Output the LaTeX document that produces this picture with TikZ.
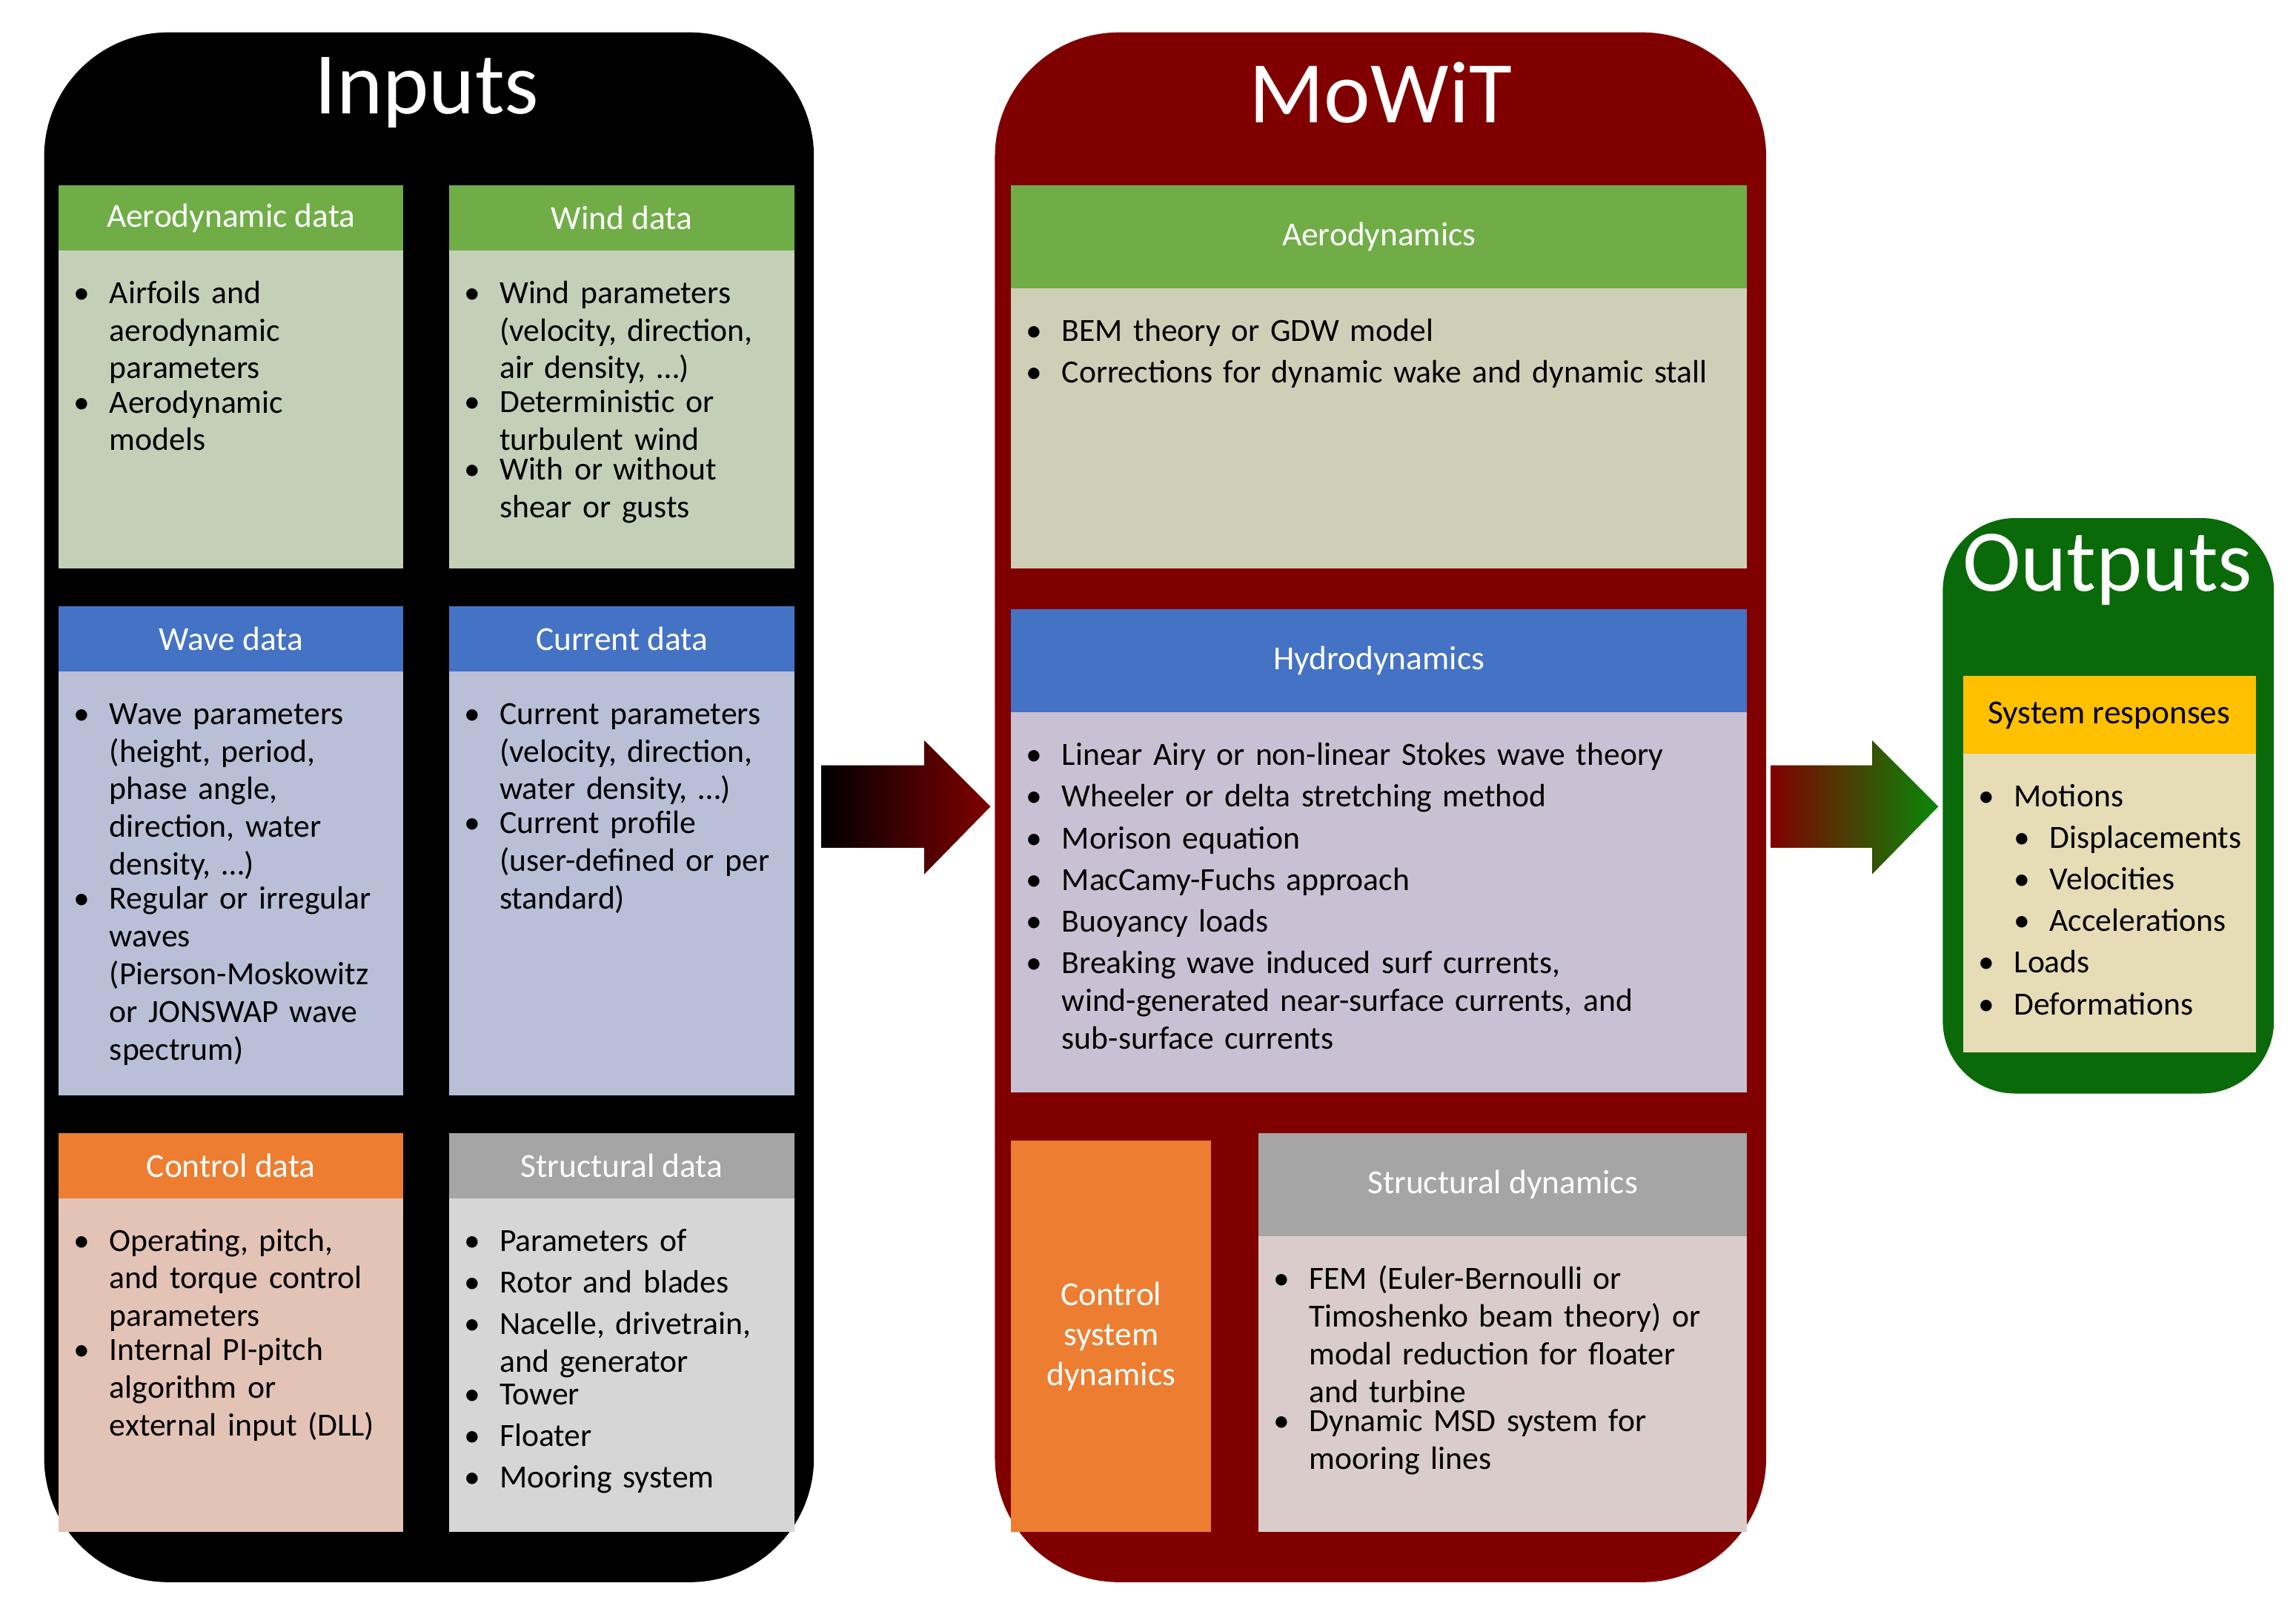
\documentclass[tikz,border=0pt]{standalone}
\usepackage{fontspec}
\setmainfont{Carlito}
\newcommand\bul[1]{\par\noindent\makebox[1.1em][l]{\textbullet}\parbox[t]{\dimexpr\linewidth-1.1em}{\raggedright\hyphenpenalty=10000 #1}\par\vspace{1.5pt}}
\newcommand\sbul[1]{\par\noindent\hspace*{1.1em}\makebox[1.1em][l]{\textbullet}\parbox[t]{\dimexpr\linewidth-2.2em}{\raggedright #1}\par\vspace{1.5pt}}
\begin{document}
\begin{tikzpicture}[x=0.02cm,y=-0.02cm,
 hdr/.style={font=\fontsize{13}{15}\selectfont,text=white},
 btxt/.style={anchor=north west,text width={#1*0.02cm},align=left,inner sep=0pt,font=\fontsize{12.5}{14.6}\selectfont},
 ttl/.style={text=white,font=\fontsize{34}{38}\selectfont}]
\definecolor{gh}{HTML}{70AD47}\definecolor{gb}{HTML}{C4CFB8}
\definecolor{bh}{HTML}{4472C4}\definecolor{bb}{HTML}{B9BFD6}
\definecolor{oh}{HTML}{ED7D31}\definecolor{ob}{HTML}{E3C3B5}
\definecolor{ah}{HTML}{A5A5A5}\definecolor{ab}{HTML}{D6D6D6}
\definecolor{mr}{HTML}{800000}\definecolor{og}{HTML}{0A6A0A}
\definecolor{yh}{HTML}{FFC000}\definecolor{yb}{HTML}{E6DCB5}
\definecolor{aeb}{HTML}{CFCFB8}\definecolor{hyb}{HTML}{C9C1D3}\definecolor{stb}{HTML}{D9CCCB}
\useasboundingbox (0,0) rectangle (1560,1091);
\fill[white] (0,0) rectangle (1560,1091);
% big boxes
\fill[black,rounded corners=48] (30,22) rectangle (553,1075);
\fill[mr,rounded corners=48] (676,22) rectangle (1200,1075);
\fill[og,rounded corners=28] (1320,352) rectangle (1545,743);
\node[ttl] (tin) at (290,63) {Inputs};
\node[ttl] (tmo) at (938,63) {MoWiT};
\node[ttl] (tout) at (1432,387) {Outputs};
% arrows
\shade[left color=black,right color=mr] (558,520) -- (628,520) -- (628,503) -- (673,548) -- (628,594) -- (628,576) -- (558,576) -- cycle;
\shade[left color=mr,right color=og!80!green] (1203,520) -- (1272,520) -- (1272,503) -- (1317,548) -- (1272,594) -- (1272,576) -- (1203,576) -- cycle;
% panels
\newcommand\panel[8]{%
 \fill[#7] (#1,#4) rectangle (#2,#5);
 \fill[#6] (#1,#3) rectangle (#2,#4);
 \node[hdr] at ({(#1+#2)/2},{(#3+#4)/2}) {#8};}
\panel{40}{274}{126}{170}{386}{gh}{gb}{Aerodynamic data}
\panel{305}{540}{126}{170}{386}{gh}{gb}{Wind data}
\panel{40}{274}{412}{456}{744}{bh}{bb}{Wave data}
\panel{305}{540}{412}{456}{744}{bh}{bb}{Current data}
\panel{40}{274}{770}{814}{1041}{oh}{ob}{Control data}
\panel{305}{540}{770}{814}{1041}{ah}{ab}{Structural data}
\node[btxt=210] (t1) at (50,180) {\bul{Airfoils and aerodynamic parameters}\bul{Aerodynamic models}};
\node[btxt=215] (t2) at (315,180) {\bul{Wind parameters (velocity, direction, air density, \dots)}\bul{Deterministic or turbulent wind}\bul{With or without shear or gusts}};
\node[btxt=215] (t3) at (50,466) {\bul{Wave parameters (height, period, phase angle, direction, water density, \dots)}\bul{Regular or irregular waves (Pierson-Moskowitz or JONSWAP wave spectrum)}};
\node[btxt=215] (t4) at (315,466) {\bul{Current parameters (velocity, direction, water density, \dots)}\bul{Current profile (user-defined or per standard)}};
\node[btxt=215] (t5) at (50,824) {\bul{Operating, pitch, and torque control parameters}\bul{Internal PI-pitch algorithm or external input (DLL)}};
\node[btxt=215] (t6) at (315,824) {\bul{Parameters of}\bul{Rotor and blades}\bul{Nacelle, drivetrain, and generator}\bul{Tower}\bul{Floater}\bul{Mooring system}};
\panel{687}{1187}{126}{196}{386}{gh}{aeb}{Aerodynamics}
\panel{687}{1187}{414}{484}{742}{bh}{hyb}{Hydrodynamics}
\panel{855}{1187}{770}{840}{1041}{ah}{stb}{Structural dynamics}
\fill[oh] (687,775) rectangle (823,1041);
\node[hdr,align=center,font=\fontsize{13}{15.5}\selectfont] (csd) at (755,908) {Control\\system\\dynamics};
\node[btxt=480] (m1) at (697,206) {\bul{BEM theory or GDW model}\bul{Corrections for dynamic wake and dynamic stall}};
\node[btxt=435] (m2) at (697,494) {\bul{Linear Airy or non-linear Stokes wave theory}\bul{Wheeler or delta stretching method}\bul{Morison equation}\bul{MacCamy-Fuchs approach}\bul{Buoyancy loads}\bul{Breaking wave induced surf currents, wind-generated near-surface currents, and sub-surface currents}};
\node[btxt=290] (m3) at (865,850) {\bul{FEM (Euler-Bernoulli or Timoshenko beam theory) or modal reduction for floater and turbine}\bul{Dynamic MSD system for mooring lines}};
\fill[yb] (1334,512) rectangle (1533,715);
\fill[yh] (1334,459) rectangle (1533,512);
\node[font=\fontsize{13}{15}\selectfont] (sr) at (1433,486) {System responses};
\node[btxt=190] (o1) at (1344,522) {\bul{Motions}\sbul{Displacements}\sbul{Velocities}\sbul{Accelerations}\bul{Loads}\bul{Deformations}};
\end{tikzpicture}
\end{document}
